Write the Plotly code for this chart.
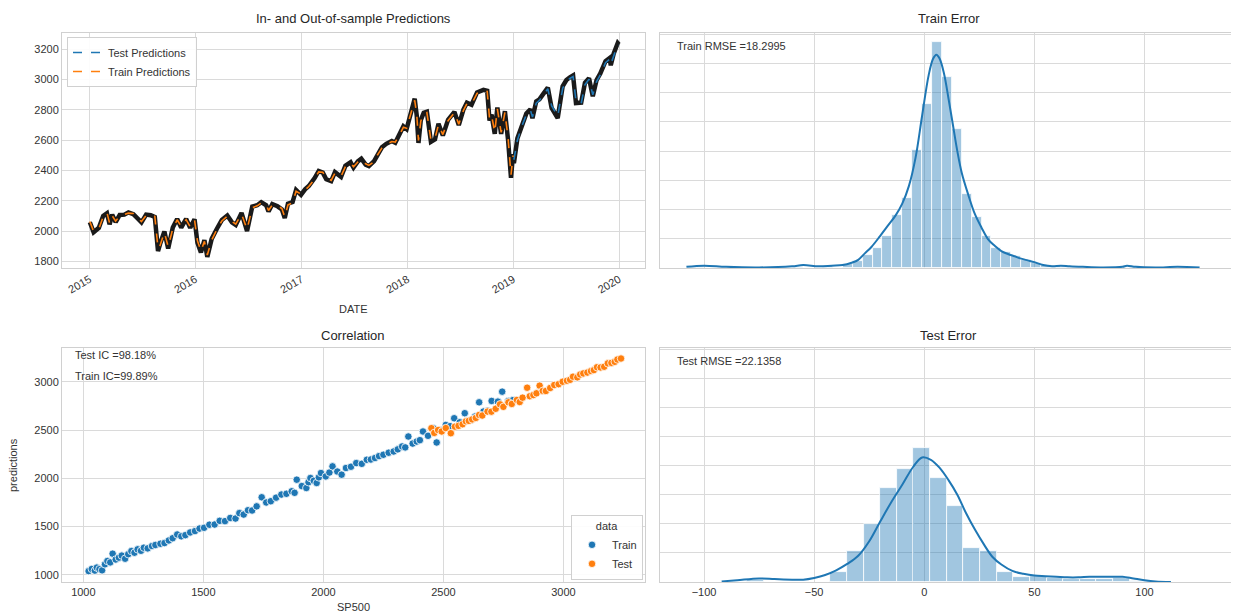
import plotly.graph_objects as go

# ---------------- data ----------------
train_dates = [
    "2015-01-02","2015-01-15","2015-02-02","2015-02-17","2015-03-02","2015-03-11","2015-03-20","2015-04-01","2015-04-15",
    "2015-05-01","2015-05-15","2015-06-01","2015-06-15","2015-06-29","2015-07-15","2015-07-31","2015-08-14","2015-08-25",
    "2015-09-01","2015-09-16","2015-09-29","2015-10-15","2015-10-30","2015-11-13","2015-11-30","2015-12-14","2015-12-29",
    "2016-01-08","2016-01-20","2016-02-01","2016-02-11","2016-02-26","2016-03-15","2016-04-01","2016-04-20","2016-05-06",
    "2016-05-19","2016-06-08","2016-06-27","2016-07-15","2016-08-01","2016-08-15","2016-09-01","2016-09-09","2016-09-22",
    "2016-10-10","2016-10-25","2016-11-04","2016-11-15","2016-12-01","2016-12-13","2016-12-30",
    "2017-01-13","2017-01-26","2017-02-15","2017-03-01","2017-03-15","2017-03-27","2017-04-13","2017-04-26","2017-05-17",
    "2017-06-01","2017-06-19","2017-06-29","2017-07-14","2017-07-26","2017-08-10","2017-08-21","2017-09-08","2017-09-20",
    "2017-10-05","2017-10-20","2017-11-08","2017-11-20","2017-12-04","2017-12-18","2017-12-29",
    "2018-01-12","2018-01-26","2018-02-02","2018-02-08","2018-02-16","2018-02-26","2018-03-09","2018-03-23","2018-04-06",
    "2018-04-18","2018-05-03","2018-05-21","2018-06-12","2018-06-27","2018-07-13","2018-07-25","2018-08-10","2018-08-29",
    "2018-09-20","2018-10-03","2018-10-11","2018-10-18","2018-10-29","2018-11-07","2018-11-20","2018-12-03","2018-12-14",
    "2018-12-24","2018-12-31",
]
train_actual = [
    2058, 1992, 2021, 2100, 2117, 2044, 2108, 2059, 2106, 2108, 2123, 2111, 2084, 2057, 2108, 2104, 2092, 1868,
    1914, 1996, 1884, 2023, 2079, 2023, 2080, 2021, 2078,
    1922, 1859, 1940, 1829, 1948, 2015, 2072, 2102, 2057, 2040, 2119, 2000, 2161, 2170, 2190, 2170, 2128, 2177,
    2163, 2143, 2085, 2180, 2191, 2271, 2239,
    2275, 2297, 2349, 2396, 2385, 2341, 2329, 2388, 2357, 2430, 2453, 2419, 2459, 2477, 2438, 2428, 2461, 2508,
    2552, 2575, 2594, 2582, 2639, 2690, 2673,
    2786, 2873, 2762, 2581, 2732, 2779, 2786, 2588, 2604, 2708, 2630, 2733, 2786, 2699, 2801, 2846, 2833, 2914,
    2931, 2925, 2728, 2768, 2641, 2814, 2641, 2790, 2599, 2351, 2507,
]
train_pred = [
    2063, 1998, 2015, 2094, 2121, 2052, 2101, 2065, 2100, 2112, 2118, 2115, 2090, 2062, 2102, 2108, 2097, 1885,
    1905, 1990, 1897, 2015, 2074, 2030, 2075, 2028, 2072,
    1935, 1868, 1932, 1842, 1940, 2010, 2066, 2097, 2062, 2046, 2112, 2012, 2154, 2166, 2185, 2174, 2135, 2171,
    2167, 2148, 2093, 2172, 2186, 2262, 2244,
    2270, 2293, 2343, 2390, 2388, 2347, 2334, 2382, 2361, 2424, 2449, 2424, 2455, 2472, 2443, 2433, 2457, 2502,
    2547, 2570, 2590, 2586, 2633, 2684, 2678,
    2778, 2862, 2770, 2597, 2725, 2773, 2781, 2598, 2611, 2701, 2636, 2728, 2780, 2705, 2795, 2840, 2837, 2908,
    2926, 2921, 2741, 2762, 2652, 2806, 2650, 2783, 2611, 2370, 2498,
]
test_dates = [
    "2019-01-03","2019-01-15","2019-01-31","2019-02-15","2019-03-01","2019-03-08","2019-03-21","2019-04-01","2019-04-15",
    "2019-04-30","2019-05-13","2019-06-03","2019-06-20","2019-07-03","2019-07-15","2019-07-26","2019-08-05","2019-08-15",
    "2019-08-23","2019-09-05","2019-09-19","2019-10-02","2019-10-15","2019-10-28","2019-11-15","2019-11-29","2019-12-03",
    "2019-12-13","2019-12-27","2019-12-31",
]
test_actual = [
    2448, 2611, 2704, 2775, 2803, 2743, 2855, 2868, 2906, 2946, 2812, 2744, 2954, 2996, 3014, 3026, 2844, 2848,
    2847, 2977, 3007, 2888, 2996, 3039, 3120, 3141, 3093, 3169, 3240, 3231,
]
test_pred = [
    2470, 2598, 2695, 2768, 2797, 2752, 2843, 2861, 2898, 2938, 2826, 2757, 2940, 2988, 3006, 3019, 2860, 2855,
    2840, 2965, 3001, 2899, 2985, 3030, 3110, 3133, 3101, 3158, 3228, 3225,
]

# Correlation scatter (SP500 vs predictions)
scat_train_x = [1022,1035,1048,1056,1067,1078,1090,1100,1112,1122,1135,1148,1160,1174,1187,1200,1213,1226,1240,1252,
                1268,1286,1300,1321,1338,1356,1372,1391,1408,1425,1445,1465,1484,1503,1525,1547,1568,1590,1612,1634,
                1650,1668,1686,1703,1722,1743,1762,1781,1803,1825,1846,1868,1880,1889,1910,1929,1938,1946,1960,1972,
                1981,1990,2010,2025,2038,2058,2076,2094,2115,2137,2160,2181,2198,2215,2232,2250,2272,2293,2310,2328,
                2341,2354,2372,2389,2402,2415,2436,2458,2472,2490,2510,2528,2545,2568,2589,2615,2632,2649,2667,2684,
                2701,2727,2745,2770,2790]
scat_train_y = [1040,1062,1045,1076,1060,1048,1110,1144,1130,1220,1160,1179,1200,1168,1215,1247,1230,1265,1250,1282,
                1275,1299,1310,1323,1330,1357,1380,1419,1400,1412,1440,1454,1480,1488,1520,1522,1560,1557,1590,1584,
                1640,1625,1670,1667,1710,1804,1750,1763,1800,1832,1840,1866,1850,1986,1920,1900,1960,2003,1975,1952,
                2010,2055,2020,2060,2124,2070,2038,2107,2120,2158,2150,2192,2195,2210,2230,2244,2265,2278,2300,2330,
                2320,2433,2360,2381,2395,2485,2440,2519,2371,2500,2553,2540,2622,2580,2674,2605,2640,2787,2691,2700,
                2801,2794,2897,2800,2810]
scat_test_x = [2450,2462,2478,2493,2510,2531,2548,2563,2580,2594,2606,2620,2635,2649,2662,2684,2700,2718,2736,2750,
               2771,2785,2806,2818,2830,2849,2860,2875,2888,2901,2914,2927,2945,2962,2980,2997,3015,3028,3040,3058,
               3070,3083,3100,3115,3127,3140,3155,3170,3185,3200,3214,3225,3240]
scat_test_y = [2519,2470,2500,2485,2520,2467,2535,2543,2560,2590,2595,2610,2625,2656,2650,2691,2690,2720,2766,2740,
               2787,2770,2811,2790,2835,2938,2850,2862,2880,2959,2905,2904,2935,2966,2975,3000,3010,3020,3052,3045,
               3075,3086,3095,3110,3120,3150,3148,3155,3190,3195,3206,3230,3240]

# Error histograms (bin left edges, widths, densities) and KDE curves
train_bin_left = [-104.5, -59.5, -46, -37, -32.5, -28, -23.5, -19, -14.5, -10, -5.5, -1, 3.5, 8, 12.5, 17, 21.5, 26,
                  30.5, 35, 39.5, 44, 48.5, 53, 57.5, 62, 93.5, 120.5]
train_bin_height = [0.0002, 0.0002, 0.0003, 0.0006, 0.0012, 0.0022, 0.0035, 0.0055, 0.0090, 0.0119, 0.0202, 0.0280,
                    0.0386, 0.0327, 0.0237, 0.0127, 0.0087, 0.0055, 0.0034, 0.0027, 0.0020, 0.0013, 0.0009, 0.0005,
                    0.0003, 0.0002, 0.0003, 0.0002]
train_bin_width = 4.5
train_kde_x = [-108, -100, -90, -75, -60, -55, -48, -42, -37, -33, -30, -27, -24, -20, -16, -13, -10, -7, -4, -1,
               2, 4, 5.5, 7, 9, 11, 13, 15, 17, 20, 23, 26, 29, 32, 35, 38, 41, 44, 47, 50, 54, 58, 62, 66, 72,
               80, 90, 92, 96, 105, 115, 125]
train_kde_y = [0.0002, 0.0004, 0.0002, 0.0001, 0.0003, 0.0005, 0.0003, 0.0004, 0.0005, 0.0009, 0.0014, 0.0025,
               0.0036, 0.0055, 0.0075, 0.0090, 0.0110, 0.0140, 0.0188, 0.0260, 0.0330, 0.0358, 0.0365, 0.0358,
               0.0332, 0.0290, 0.0245, 0.0200, 0.0163, 0.0125, 0.0092, 0.0069, 0.0049, 0.0038, 0.0029, 0.0024,
               0.0020, 0.0016, 0.0013, 0.0010, 0.0005, 0.0003, 0.0004, 0.0003, 0.0002, 0.0001, 0.0002, 0.0004,
               0.0002, 0.0001, 0.0002, 0.0001]

test_bin_left = [-80.4, -42.6, -35.1, -27.5, -20.0, -12.4, -4.9, 2.7, 10.2, 17.8, 25.3, 32.9, 40.4, 48.0, 55.5,
                 63.1, 70.6, 78.2, 85.7, 93.3]
test_bin_height = [0.0003, 0.0018, 0.0053, 0.0099, 0.0162, 0.0194, 0.0231, 0.0178, 0.0131, 0.0058, 0.0053, 0.0018,
                   0.0009, 0.0011, 0.0007, 0.0005, 0.0006, 0.0006, 0.0007, 0.0002]
test_bin_width = 7.55
test_kde_x = [-92, -85, -75, -68, -60, -55, -50, -45, -40, -35, -30, -25, -20, -15, -10, -5, -1, 3, 7, 11,
              15, 19, 23, 27, 31, 35, 40, 45, 50, 55, 60, 65, 70, 75, 80, 85, 90, 95, 100, 105, 112]
test_kde_y = [0.0001, 0.0003, 0.0006, 0.0005, 0.0004, 0.0004, 0.0007, 0.0012, 0.0020, 0.0031, 0.0045, 0.0070,
              0.0104, 0.0137, 0.0167, 0.0198, 0.0214, 0.0210, 0.0196, 0.0175, 0.0150, 0.0118, 0.0090, 0.0065,
              0.0043, 0.0030, 0.0019, 0.0014, 0.0011, 0.0010, 0.0009, 0.0008, 0.0008, 0.0009, 0.0009, 0.0009,
              0.0009, 0.0006, 0.0003, 0.0001, 0.0000]

year_ticks = ["2015-01-01", "2016-01-01", "2017-01-01", "2018-01-01", "2019-01-01", "2020-01-01"]
year_labels = ["2015", "2016", "2017", "2018", "2019", "2020"]

# ---------------- style ----------------
BLUE = "#1f77b4"
ORANGE = "#ff7f0e"
HIST = "rgba(31,119,180,0.42)"
GRID = "#dadada"
EDGE = "#d0d0d0"
FONT = "Liberation Sans, Arial, sans-serif"
TXT = "#333333"

fig = go.Figure()

# ---- top-left: time series ----
fig.add_trace(go.Scatter(x=train_dates + test_dates, y=train_actual + test_actual, mode="lines",
                         line=dict(color="#1a1a1a", width=4.5), showlegend=False,
                         xaxis="x", yaxis="y", hoverinfo="skip"))
fig.add_trace(go.Scatter(x=test_dates, y=test_pred, mode="lines", name="Test Predictions",
                         line=dict(color=BLUE, width=1.6, dash="dash"), legend="legend",
                         xaxis="x", yaxis="y"))
fig.add_trace(go.Scatter(x=train_dates, y=train_pred, mode="lines", name="Train Predictions",
                         line=dict(color=ORANGE, width=1.6, dash="dash"), legend="legend",
                         xaxis="x", yaxis="y"))

# ---- top-right: train error ----
fig.add_trace(go.Bar(x=train_bin_left, y=train_bin_height, width=train_bin_width, offset=0,
                     marker=dict(color=HIST, line=dict(color="white", width=0.8)),
                     showlegend=False, xaxis="x2", yaxis="y2"))
fig.add_trace(go.Scatter(x=train_kde_x, y=train_kde_y, mode="lines", line=dict(color=BLUE, width=2, shape="spline"),
                         showlegend=False, xaxis="x2", yaxis="y2"))

# ---- bottom-left: correlation ----
fig.add_trace(go.Scatter(x=scat_train_x, y=scat_train_y, mode="markers", name="Train",
                         marker=dict(color=BLUE, size=7.5, line=dict(color="white", width=0.8)),
                         legend="legend2", xaxis="x3", yaxis="y3"))
fig.add_trace(go.Scatter(x=scat_test_x, y=scat_test_y, mode="markers", name="Test",
                         marker=dict(color=ORANGE, size=7.5, line=dict(color="white", width=0.8)),
                         legend="legend2", xaxis="x3", yaxis="y3"))

# ---- bottom-right: test error ----
fig.add_trace(go.Bar(x=test_bin_left, y=test_bin_height, width=test_bin_width, offset=0,
                     marker=dict(color=HIST, line=dict(color="white", width=0.8)),
                     showlegend=False, xaxis="x4", yaxis="y4"))
fig.add_trace(go.Scatter(x=test_kde_x, y=test_kde_y, mode="lines", line=dict(color=BLUE, width=2, shape="spline"),
                         showlegend=False, xaxis="x4", yaxis="y4"))

# page body has an 8px margin, so the figure is drawn from (8, 8)
OFF = 8
W, H = 1239 - OFF, 616 - OFF
def px_x(p):
    return (p - OFF) / W
def px_y(p):
    return 1 - (p - OFF) / H

axis_common = dict(showgrid=True, gridcolor=GRID, gridwidth=1, showline=True, linecolor=EDGE, linewidth=1,
                   mirror=True, zeroline=False, ticks="", tickfont=dict(family=FONT, size=11, color=TXT))

dom_left = [px_x(62), px_x(645)]
dom_right = [px_x(660), min(1.0, px_x(1237))]
dom_top = [px_y(268), px_y(33)]
dom_bot = [px_y(582), px_y(348)]

fig.update_layout(
    width=W, height=H, margin=dict(l=0, r=0, t=0, b=0),
    paper_bgcolor="white", plot_bgcolor="white",
    barmode="overlay", bargap=0,
    font=dict(family=FONT, size=11, color=TXT),
    xaxis=dict(domain=dom_left, anchor="y", type="date", range=["2014-09-28", "2020-03-30"],
               tickvals=year_ticks, ticktext=year_labels, tickangle=-30, **axis_common),
    yaxis=dict(domain=dom_top, anchor="x", range=[1756, 3306], dtick=200, **axis_common),
    xaxis2=dict(domain=dom_right, anchor="y2", matches="x4", showticklabels=False, dtick=50, **axis_common),
    yaxis2=dict(domain=dom_top, anchor="x2", range=[0, 0.0402], dtick=0.005, showticklabels=False, **axis_common),
    xaxis3=dict(domain=dom_left, anchor="y3", range=[911, 3340], dtick=500, **axis_common),
    yaxis3=dict(domain=dom_bot, anchor="x3", range=[927, 3349], dtick=500, **axis_common),
    xaxis4=dict(domain=dom_right, anchor="y4", range=[-120, 142], dtick=50, **axis_common),
    yaxis4=dict(domain=dom_bot, anchor="x4", range=[0, 0.0402], dtick=0.005, showticklabels=False, **axis_common),
    legend=dict(x=px_x(67), y=px_y(37), xanchor="left", yanchor="top", bgcolor="rgba(255,255,255,0.9)",
                bordercolor=EDGE, borderwidth=1, font=dict(family=FONT, size=11, color=TXT),
                tracegroupgap=0, itemwidth=30),
    legend2=dict(x=px_x(643), y=px_y(580), xanchor="right", yanchor="bottom", bgcolor="rgba(255,255,255,0.9)",
                 bordercolor=EDGE, borderwidth=1, font=dict(family=FONT, size=11, color=TXT),
                 title=dict(text="data", side="top center", font=dict(family=FONT, size=11, color=TXT)),
                 itemwidth=30),
)

title_font = dict(family=FONT, size=13, color="#262626")
ann = [
    dict(text="In- and Out-of-sample Predictions", x=(dom_left[0] + dom_left[1]) / 2, y=px_y(19), font=title_font),
    dict(text="Train Error", x=(dom_right[0] + dom_right[1]) / 2, y=px_y(19), font=title_font),
    dict(text="Correlation", x=(dom_left[0] + dom_left[1]) / 2, y=px_y(335), font=title_font),
    dict(text="Test Error", x=(dom_right[0] + dom_right[1]) / 2, y=px_y(335), font=title_font),
    dict(text="DATE", x=(dom_left[0] + dom_left[1]) / 2, y=px_y(309), font=dict(family=FONT, size=11, color=TXT)),
    dict(text="SP500", x=(dom_left[0] + dom_left[1]) / 2, y=px_y(607), font=dict(family=FONT, size=11, color=TXT)),
    dict(text="predictions", x=px_x(13), y=px_y(465), textangle=-90, font=dict(family=FONT, size=11, color=TXT)),
    dict(text="Train RMSE =18.2995", x=px_x(675), y=px_y(46), xanchor="left", font=dict(family=FONT, size=11, color=TXT)),
    dict(text="Test RMSE =22.1358", x=px_x(675), y=px_y(361), xanchor="left", font=dict(family=FONT, size=11, color=TXT)),
    dict(text="Test IC =98.18%", x=px_x(73), y=px_y(355), xanchor="left", font=dict(family=FONT, size=11, color=TXT)),
    dict(text="Train IC=99.89%", x=px_x(73), y=px_y(376), xanchor="left", font=dict(family=FONT, size=11, color=TXT)),
]
for a in ann:
    a.setdefault("xanchor", "center")
    fig.add_annotation(xref="paper", yref="paper", showarrow=False, yanchor="middle", **a)

fig.write_html("out.html")
